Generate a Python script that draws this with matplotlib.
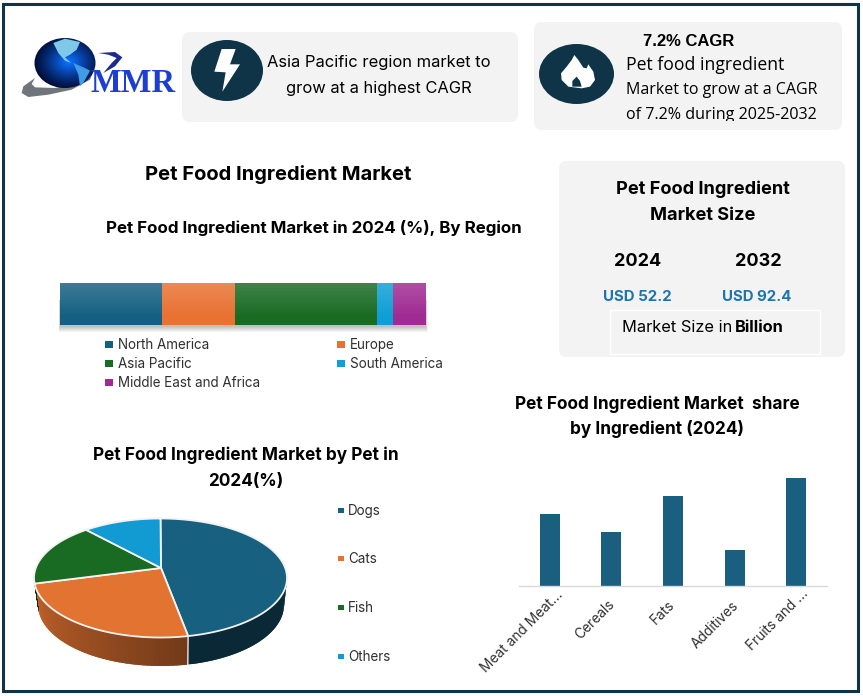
import numpy as np
import matplotlib
matplotlib.use("Agg")
import matplotlib.pyplot as plt
from matplotlib.patches import FancyBboxPatch, Rectangle, Ellipse, Polygon
from matplotlib.transforms import ScaledTranslation

# -------------------------
# Dati
# -------------------------
regions = ["North America", "Europe", "Asia Pacific", "South America", "Middle East and Africa"]
region_share = [27.9, 19.9, 38.8, 4.4, 9.0]

pets = ["Dogs", "Cats", "Fish", "Others"]
pet_share = [46.5, 27.0, 16.5, 10.0]

ingredients = ["Meat and Meat...", "Cereals", "Fats", "Additives", "Fruits and ..."]
ingredient_values = [4, 3, 5, 2, 6]

size_years = ["2024", "2032"]
size_values = ["USD 52.2", "USD 92.4"]

# -------------------------
# Configurazione
# -------------------------
W, H = 863, 696
NAVY = "#0f3347"
CARD = "#f3f3f3"
colors = ["#156082", "#e97132", "#196b24", "#0f9ed5", "#a02b93"]
pie_colors = ["#17607f", "#e37331", "#196b24", "#129bd2"]
plt.rcParams["font.family"] = ["Inter", "DejaVu Sans"]

fig = plt.figure(figsize=(W / 100, H / 100), dpi=100, facecolor="white")


def axes_px(x0, y0, x1, y1, **kw):
    # axes posizionati in pixel (origine in alto a sinistra)
    return fig.add_axes([x0 / W, 1 - y1 / H, (x1 - x0) / W, (y1 - y0) / H], **kw)


bg = axes_px(0, 0, W, H)
bg.axis("off")


def text(x, y, s, size, weight="normal", ha="center", color="black", family=None, **kw):
    bg.text(x, y + 1, s, fontsize=size, fontweight=weight, ha=ha, va="center", color=color,
            family=family or plt.rcParams["font.family"], **kw)


def card(x0, y0, x1, y1):
    bg.add_patch(FancyBboxPatch((x0 + 8, y0 + 8), x1 - x0 - 16, y1 - y0 - 16,
                                boxstyle="round,pad=8,rounding_size=8", fc=CARD, ec="none"))


def shape(xs, ys, ox, oy, color, zorder=1):
    # forme disegnate da un ritaglio ingrandito 3x
    bg.add_patch(Polygon([(ox + a / 3, oy + b / 3) for a, b in zip(xs, ys)], fc=color, ec="none", zorder=zorder))


# cornice
bg.add_patch(Rectangle((2.5, 3.5), 855, 687.5, fc="none", ec=NAVY, lw=2.2))

# -------------------------
# Logo
# -------------------------
shape([20, 25, 60, 50, 60, 120, 190, 235, 225, 170, 100, 40],
      [195, 175, 150, 168, 178, 180, 165, 130, 155, 185, 200, 207], 15, 28, "#70757b")
yy, xx = np.mgrid[-1:1:120j, -1:1:120j]
rr = np.sqrt((xx - 0.1) ** 2 + (yy + 0.05) ** 2)
glow = np.clip(1 - rr / 1.15, 0, 1) ** 1.2
globe = np.dstack([0.0 + 0.05 * glow, 0.04 + 0.42 * glow, 0.2 + 0.85 * glow])
im = bg.imshow(globe, extent=(34, 96, 88, 38), aspect="auto", zorder=2)
im.set_clip_path(Ellipse((65, 63), 61, 50, transform=bg.transData))
shape([115, 150, 195, 185, 165, 150, 168, 150, 130], [45, 32, 42, 65, 80, 88, 105, 98, 75], 15, 28, "#7fc8e8", 3)
shape([175, 205, 225, 205, 195, 190], [105, 118, 128, 165, 175, 140], 15, 28, "#3f9ce6", 3)
shape([250, 300, 322, 300, 265, 290, 305, 280], [75, 72, 88, 115, 135, 105, 90, 80], 15, 28, "#1a2a90", 3)
bg.text(133, 83, "MMR", fontsize=23.5, fontweight="bold", ha="center", va="center", color="#1c3fd2",
        family="Liberation Serif", zorder=4)

# -------------------------
# Schede in alto
# -------------------------
card(182, 32, 518, 122)
bg.add_patch(Ellipse((227, 70.5), 72, 61, fc=NAVY, ec="none", zorder=1))
shape([110, 152, 135, 165, 112, 122, 88], [42, 42, 88, 88, 170, 112, 110], 185, 35, "white", 2)
text(379, 62, "Asia Pacific region market to", 11.9)
text(379, 87, "grow at a highest CAGR", 11.9)

card(534, 22, 842, 130)
bg.add_patch(Ellipse((576.5, 74), 75, 60, fc=NAVY, ec="none", zorder=1))
shape([118, 130, 145, 155, 160, 175, 180, 165, 140, 100, 80, 78, 95, 110],
      [60, 75, 98, 100, 88, 110, 135, 155, 160, 155, 135, 115, 95, 75], 535, 35, "white", 2)
shape([125, 135, 140, 112, 112], [125, 138, 155, 155, 138], 535, 35, NAVY, 3)
text(689, 40, "7.2% CAGR", 12, weight="bold", family="Liberation Sans")
text(626, 64, "Pet food ingredient", 12.7, ha="left", family="Open Sans")
text(626, 89, "Market to grow at a CAGR", 11.5, ha="left", family="Open Sans")
text(626, 114, "of 7.2% during 2025-2032", 11.6, ha="left", family="Open Sans")
bg.add_patch(Rectangle((620, 120.5), 210, 8, fc=CARD, ec="none", zorder=5))

# -------------------------
# Titoli
# -------------------------
text(278, 174, "Pet Food Ingredient Market", 14.5, weight="bold")
text(314, 227, "Pet Food Ingredient Market in 2024 (%), By Region", 12.2, weight="bold")
text(246, 454, "Pet Food Ingredient Market by Pet in", 12.4, weight="bold")
text(246, 481, "2024(%)", 12.4, weight="bold")
text(657, 403, "Pet Food Ingredient Market  share", 12.4, weight="bold")
text(657, 428, "by Ingredient (2024)", 12.4, weight="bold")

# -------------------------
# Scheda dimensione mercato
# -------------------------
card(559, 161, 845, 357)
text(703, 188, "Pet Food Ingredient", 13.1, weight="bold")
text(703, 214, "Market Size", 13.1, weight="bold")
for x, year, val in zip([638, 758], size_years, size_values):
    text(x, 260, year, 13, weight="bold")
    text(x - 1, 296, val, 10.8, weight="bold", color="#1a75b0")
bg.add_patch(Rectangle((610, 310), 210, 44, fc="none", ec="white", lw=1))
text(622, 327, "Market Size in", 11.8, ha="left")
text(735, 327, "Billion", 11.8, ha="left", weight="bold")

# -------------------------
# 1. Barra impilata per regione
# -------------------------
for i in range(6):
    bg.add_patch(Rectangle((60 - i * 0.3, 300), 366 + i * 0.6, 27 + i, fc="black", alpha=0.045, ec="none"))

ax = axes_px(60, 283, 426, 325)
left = 0
for name, val, c in zip(regions, region_share, colors):
    ax.barh(0, val, left=left, height=1, color=c, label=name)
    left += val
ax.set_xlim(0, sum(region_share))
ax.set_ylim(-0.5, 0.5)
shade = np.ones((40, 2, 4))
shade[:, :, 3] = np.clip(np.linspace(0.17, -0.04, 40), 0, 1)[:, None]
ax.imshow(shade, extent=(0, sum(region_share), -0.5, 0.5), aspect="auto", zorder=3)
ax.axis("off")

leg_x = [105, 337, 105, 337, 105]
leg_y = [344, 344, 363, 363, 382]
for x, y, name, c in zip(leg_x, leg_y, regions, colors):
    bg.add_patch(Rectangle((x, y - 3.5), 8, 7.5, fc=c, ec="none"))
    text(x + 13, y, name, 9.7, ha="left", color="#303030")

# limiti impostati dopo imshow, che altrimenti li cambia
bg.set_xlim(0, W)
bg.set_ylim(H, 0)

# -------------------------
# 2. Torta 3D per animale
# -------------------------
pie = axes_px(0, 500, 300, 680)
pie.set_xlim(0, 300)
pie.set_ylim(680, 500)
pie.axis("off")
cx, cy, rx, ry = 160.5, 578, 126.5, 59.5
apex = (161, 568)
bx, by, brx, bry = 161, 605, 123, 61
edges = np.cumsum([0] + pet_share) / sum(pet_share) * 2 * np.pi


def top(t):
    return cx + rx * np.sin(t), cy - ry * np.cos(t)


def bottom(t):
    return bx + brx * np.sin(t), by - bry * np.cos(t)


# bordo laterale sfumato (solo la metà anteriore è visibile)
for i, c in enumerate(pie_colors):
    a, b = max(edges[i], np.pi / 2), min(edges[i + 1], 3 * np.pi / 2)
    if a >= b:
        continue
    steps = np.linspace(b, a, 50)
    base = np.array(matplotlib.colors.to_rgb(c))
    for j in range(len(steps) - 1):
        # da sinistra a destra: ogni striscia copre la giunzione della precedente
        t0, t1 = steps[j], steps[j + 1] - 0.03 if j < len(steps) - 2 else steps[j + 1]
        f = j / (len(steps) - 1)
        k = 0.85 - 0.35 * f if i == 1 else 0.42
        tx0, ty0 = top(t0)
        tx1, ty1 = top(t1)
        qx0, qy0 = bottom(t0)
        qx1, qy1 = bottom(t1)
        pie.fill([tx0, tx1, qx1, qx0], [ty0, ty1, qy1, qy0], color=base * k, lw=0, zorder=1)

for i, c in enumerate(pie_colors):
    ts = np.linspace(edges[i], edges[i + 1], 80)
    ox, oy = top(ts)
    pie.fill(np.r_[apex[0], ox], np.r_[apex[1], oy], fc=c, ec="#f2f2f2", lw=1.3, zorder=2)

# linea bianca tra i due spicchi sul bordo
ex, ey = top(edges[1])
fx, fy = bottom(edges[1])
pie.plot([ex, fx], [ey, fy], color="#e8e8e8", lw=1, zorder=3)

for y, name, c in zip([510, 558, 607, 656], pets, pie_colors):
    bg.add_patch(Rectangle((338, y - 2.5), 5.5, 5.5, fc=c, ec="none"))
    text(348, y, name, 9.7, ha="left", color="#303030")

# -------------------------
# 3. Barre per ingrediente
# -------------------------
axb = axes_px(519, 478, 827, 586)
axb.patch.set_alpha(0)
axb.bar(range(len(ingredients)), ingredient_values, width=0.325, color="#1a5f80")
axb.set_xlim(-0.5, 4.5)
axb.set_ylim(0, 6)
axb.set_yticks([])
axb.set_xticks(range(len(ingredients)))
axb.set_xticklabels(ingredients, rotation=45, ha="right", va="top", rotation_mode="anchor",
                    fontsize=9.9, color="#303030")
axb.tick_params(axis="x", length=0, pad=5)
# spostamento delle etichette in pixel, come nell'originale
label_dx = [6, -4, -5, -3, 5]
label_dy = [5, -4, -5, -6, 7]
for lab, dx, dy in zip(axb.get_xticklabels(), label_dx, label_dy):
    lab.set_transform(lab.get_transform() + ScaledTranslation(dx / 100, dy / 100, fig.dpi_scale_trans))
for s in ["top", "left", "right"]:
    axb.spines[s].set_visible(False)
axb.spines["bottom"].set_color("#d9d9d9")
axb.spines["bottom"].set_linewidth(1)

fig.savefig("out.png", dpi=100)
